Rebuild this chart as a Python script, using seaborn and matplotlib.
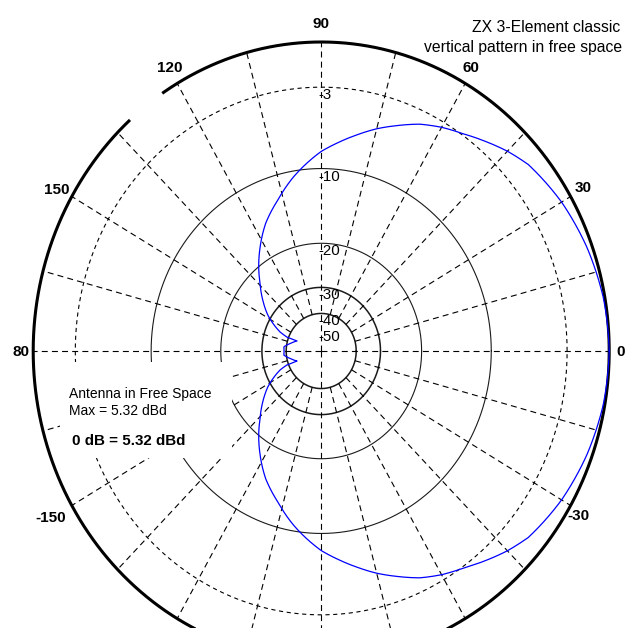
import numpy as np
import pandas as pd
import matplotlib
matplotlib.use("Agg")
import matplotlib.pyplot as plt
import seaborn as sns
from matplotlib.patches import Rectangle

# ---------------- data ----------------
pattern_deg = [0, 10, 20, 30, 40, 45, 50, 55, 60, 65, 70, 75, 80, 85, 90, 96, 100,
               107, 115, 123, 134, 141, 148, 156.7, 159.3, 158.9, 167, 174, 180,
               186, 193, 201.1, 200.7, 203.3, 212, 219, 226, 237, 245, 253, 260,
               264, 270, 275, 280, 285, 290, 295, 300, 305, 310, 315, 320, 330,
               340, 350, 360]
pattern_db = [0.0, -0.1, -0.35, -0.7, -1.2, -1.7, -2.3, -2.9, -3.4, -4.0, -4.8, -5.6,
              -6.5, -7.4, -8.3, -9.7, -10.7, -12.7, -14.9, -17.8, -22.5, -25.5,
              -28.9, -35.3, -39.2, -45.7, -42.0, -38.7, -38.9,
              -38.7, -42.0, -45.7, -39.2, -35.3, -28.9, -25.5, -22.5, -17.8,
              -14.9, -12.7, -10.7, -9.7, -8.3, -7.4, -6.5, -5.6, -4.8, -4.0,
              -3.4, -2.9, -2.3, -1.7, -1.2, -0.7, -0.35, -0.1, 0.0]

ring_dashed_db = [-3]
ring_solid_db = [-10, -20, -30, -40]
ring_label_db = [-3, -10, -20, -30, -40, -50]
ring_labels = ["-3", "-10", "-20", "-30", "-40", "-50"]
angle_ticks = [0, 30, 60, 90, 120, 150, 180, -150, -30]
angle_labels = ["0", "30", "60", "90", "120", "150", "80", "-150", "-30"]
title_lines = ["ZX 3-Element classic", "vertical pattern in free space"]
info_lines = ["Antenna in Free Space", "Max = 5.32 dBd"]
ref_line = "0 dB = 5.32 dBd"

# ---------------- style / layout ----------------
sns.set_theme(style="white")
plt.rcParams["font.family"] = ["Liberation Sans", "DejaVu Sans"]
plt.rcParams["lines.scale_dashes"] = False

W, H = 627, 628
fig = plt.figure(figsize=(W / 100, H / 100), dpi=100)
fig.patch.set_facecolor("white")
cx, cy, rx, ry = 321.2, 351.0, 288.0, 309.0
ax = fig.add_axes([(cx - rx) / W, 1 - (cy + ry) / H, 2 * rx / W, 2 * ry / H],
                  projection="polar")
ax.set_aspect("auto")


def fwd(db):
    return np.power(0.9, -np.asarray(db, dtype=float) / 2.0)


def inv(r):
    return -2.0 * np.log(np.asarray(r, dtype=float)) / np.log(0.9)


ax.set_rscale("function", functions=(fwd, inv))
RMIN = -200.0

th_full = np.deg2rad(np.linspace(0, 360, 1441))

# outer 0 dB ring (thick, with a gap between ~123.5 and ~131.6 deg)
th_outer = np.deg2rad(np.linspace(131.6, 483.5, 1400))
ax.plot(th_outer, np.zeros_like(th_outer), color="black", lw=2.2,
        solid_capstyle="butt", clip_on=False, zorder=3)

for db in ring_dashed_db:
    ax.plot(th_full, np.full_like(th_full, db), color="black", lw=0.8,
            ls=(0, (3.0, 2.6)), clip_on=False, zorder=2)
for db in ring_solid_db:
    lw = 0.8 if db > -25 else 1.1
    ax.plot(th_full, np.full_like(th_full, db), color="#1a1a1a", lw=lw,
            clip_on=False, zorder=2)

# spokes every 15 deg
for a in range(0, 360, 15):
    r0 = RMIN if a % 90 == 0 else -40
    t = np.deg2rad(a)
    ax.plot([t, t], [r0, 0], color="black", lw=0.8, ls=(0, (4.3, 3.0)),
            clip_on=False, zorder=2)

# pattern
n_before = len(ax.lines)
df = pd.DataFrame({"theta": np.deg2rad(pattern_deg), "db": pattern_db})
sns.lineplot(data=df, x="theta", y="db", sort=False, estimator=None,
             color="#0000ff", lw=0.9, ax=ax, zorder=4)
for ln in ax.lines[n_before:]:
    # let the polar projection draw each segment along (theta, r) instead of a chord
    ln.get_path()._interpolation_steps = 40
    ln.recache(always=True)
for ln in ax.lines:
    ln.set_clip_on(False)

ax.set_autoscale_on(False)
ax.set_rlim(RMIN, 0)
ax.axis("off")

# ring labels just right of the vertical axis
for db, lab in zip(ring_label_db, ring_labels):
    ax.annotate(lab, xy=(np.pi / 2, db), xytext=(-2.5, -1.0),
                textcoords="offset pixels", ha="left", va="top",
                fontsize=10.8, color="black", zorder=5)

# angle labels
label_offsets_px = [(11, 0), (12.4, 9.5), (6, 16.4), (0, 20), (-7, 16.4),
                    (-14.8, 8.5), (-12, 0), (-20.8, -11.5), (7.4, -9.5)]
for a, lab, (dx, dy) in zip(angle_ticks, angle_labels, label_offsets_px):
    ax.annotate(lab, xy=(np.deg2rad(a), 0), xytext=(dx, dy - 5.5),
                textcoords="offset pixels", ha="center", va="baseline",
                fontsize=11, fontweight="bold", color="black",
                annotation_clip=False, zorder=5)

# white box behind the info text (erases grid there)
fig.patches.append(Rectangle((60 / W, 1 - 458 / H), 172 / W, 96 / H,
                             transform=fig.transFigure, facecolor="white",
                             edgecolor="none", zorder=1))

# title (top right)
fig.text(620 / W, 1 - 31.7 / H, title_lines[0], ha="right", va="baseline",
         fontsize=11.3, color="black", zorder=3)
fig.text(622.5 / W, 1 - 51.7 / H, title_lines[1], ha="right", va="baseline",
         fontsize=11.3, color="black", zorder=3)

# info text
fig.text(69 / W, 1 - 398.3 / H, info_lines[0], ha="left", va="baseline",
         fontsize=10.0, color="black", zorder=3)
fig.text(69 / W, 1 - 415 / H, info_lines[1], ha="left", va="baseline",
         fontsize=10.0, color="black", zorder=3)
fig.text(72 / W, 1 - 445 / H, ref_line, ha="left", va="baseline",
         fontsize=10.9, fontweight="bold", color="black", zorder=3)

fig.savefig("out.png", dpi=100, facecolor="white")
